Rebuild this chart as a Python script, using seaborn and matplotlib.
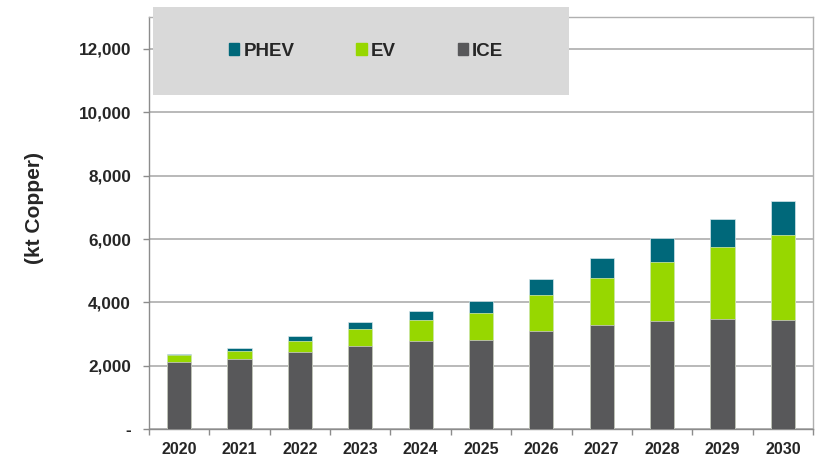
import pandas as pd
import matplotlib.pyplot as plt
import seaborn as sns
from matplotlib.patches import Patch, Rectangle
from matplotlib.ticker import FuncFormatter

# Demanda de cobre por tipo de veículo (kt)
years = ['2020', '2021', '2022', '2023', '2024', '2025', '2026', '2027', '2028', '2029', '2030']
ice = [2120, 2224, 2444, 2633, 2791, 2813, 3106, 3295, 3421, 3484, 3442]
ev = [210, 252, 347, 536, 661, 860, 1124, 1471, 1849, 2258, 2699]
phev = [32, 94, 157, 211, 284, 368, 504, 620, 755, 903, 1071]

c_ice = '#58585a'
c_ev = '#97d700'
c_phev = '#00687a'

df = pd.DataFrame({'year': years, 'ICE': ice, 'EV': ev, 'PHEV': phev})
df['ICE+EV'] = df['ICE'] + df['EV']
df['total'] = df['ICE+EV'] + df['PHEV']

sns.set_style("white")
plt.rcParams['font.family'] = ['Liberation Sans', 'DejaVu Sans']
plt.rcParams['font.weight'] = 'bold'

fig = plt.figure(figsize=(8.2, 4.57), dpi=100)
ax = fig.add_axes([0.1817, 0.0606, 0.8098, 0.9022])

# barras empilhadas: total, depois ICE+EV, depois ICE
sns.barplot(data=df, x='year', y='total', color=c_phev, width=0.4, ax=ax,
            saturation=1, edgecolor='#d6e6ea', linewidth=0.5, zorder=3)
sns.barplot(data=df, x='year', y='ICE+EV', color=c_ev, width=0.4, ax=ax,
            saturation=1, edgecolor='#d8eeb0', linewidth=0.5, zorder=3)
sns.barplot(data=df, x='year', y='ICE', color=c_ice, width=0.4, ax=ax,
            saturation=1, edgecolor='#d0d0d0', linewidth=0.5, zorder=3)

ax.set_ylim(0, 13000)
ax.set_xlim(-0.5, len(years) - 0.5)
ax.set_yticks(range(0, 12001, 2000))
ax.yaxis.set_major_formatter(FuncFormatter(lambda v, p: '-' if v == 0 else f'{v:,.0f}'))
ax.grid(axis='y', color='#a6a6a6', linewidth=1.1, zorder=0)
ax.set_axisbelow(True)

ax.set_xlabel('')
ax.set_ylabel('(kt Copper)', fontsize=15, fontweight='bold')
ax.yaxis.set_label_coords(-0.158, 0.537)

ax.tick_params(axis='y', length=4, width=1, color='#8c8c8c', labelsize=12.3, pad=9, left=True)
ax.tick_params(axis='x', which='major', length=0, labelsize=11.5, pad=9)
ax.set_xticks([i - 0.5 for i in range(len(years) + 1)], minor=True)
ax.tick_params(axis='x', which='minor', length=4, width=1, color='#8c8c8c', bottom=True)
for lbl in ax.get_xticklabels() + ax.get_yticklabels():
    lbl.set_fontweight('bold')

for s in ['left', 'bottom']:
    ax.spines[s].set_color('#8c8c8c')
for s in ['top', 'right']:
    ax.spines[s].set_color('#b0b0b0')
for s in ax.spines.values():
    s.set_linewidth(1)

# caixa cinza da legenda
fig.patches.append(Rectangle((153 / 820, 1 - 95 / 457), 416 / 820, 88 / 457,
                             transform=fig.transFigure, facecolor='#d9d9d9',
                             edgecolor='none', zorder=2))
handles = [Patch(color=c_phev, label='PHEV'), Patch(color=c_ev, label='EV'),
           Patch(color=c_ice, label='ICE')]
fig.legend(handles=handles, loc='center left', bbox_to_anchor=(229 / 820, 1 - 51 / 457),
           ncol=3, frameon=False, prop={'size': 13.5, 'weight': 'bold'},
           handlelength=0.55, handleheight=0.55, handletextpad=0.22,
           columnspacing=3.3, borderpad=0, borderaxespad=0)

plt.savefig('out.png', dpi=100)
